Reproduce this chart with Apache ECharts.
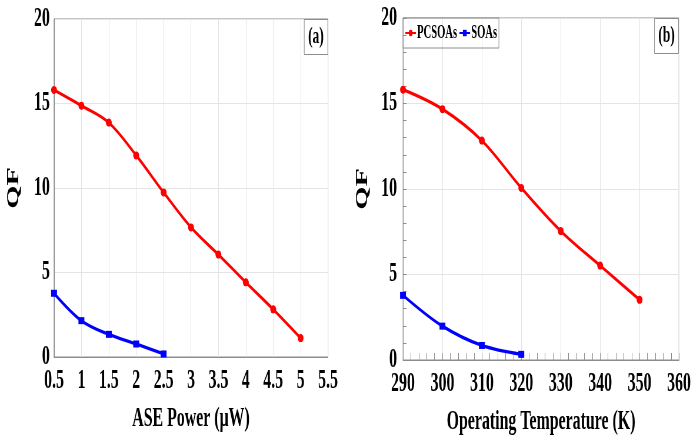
<!DOCTYPE html>
<html>
<head>
<meta charset="utf-8">
<script src="https://cdn.jsdelivr.net/npm/echarts@6/dist/echarts.min.js"></script>
<style>
  html, body { margin: 0; padding: 0; overflow: hidden; background: #fff; width: 693px; height: 441px; }
  /* the figure is laid out on a wider canvas and narrowed horizontally,
     which gives the tall, condensed lettering of the original figure */
  #chart { height: 441px; transform-origin: 0 0; }
</style>
</head>
<body>
<div id="chart"></div>
<script>
// ---- data ----
const asePower      = [0.5, 1, 1.5, 2, 2.5, 3, 3.5, 4, 4.5, 5];          // µW
const qfPcsoaPower  = [15.8, 14.87, 13.87, 11.93, 9.74, 7.67, 6.06, 4.42, 2.82, 1.12];
const qfSoaPower    = [3.77, 2.15, 1.34, 0.77, 0.18];

const temperature   = [290, 300, 310, 320, 330, 340, 350];                 // K
const qfPcsoaTemp   = [15.81, 14.67, 12.83, 10.06, 7.54, 5.52, 3.52];
const qfSoaTemp     = [3.78, 1.98, 0.85, 0.33];

const powerTicks = [0.5, 1, 1.5, 2, 2.5, 3, 3.5, 4, 4.5, 5, 5.5];
const tempTicks  = [290, 300, 310, 320, 330, 340, 350, 360];
const qfTicks    = [0, 5, 10, 15, 20];

const seriesNames = ['PCSOAs', 'SOAs'];

// ---- layout helpers ----
const K = 1.7;                       // horizontal stretch factor of the drawing canvas
const W = 693, H = 441;
const sx = v => v * K;               // screen x -> canvas x

const el = document.getElementById('chart');
el.style.width = Math.round(W * K) + 'px';
el.style.transform = 'scaleX(' + (1 / K) + ')';

const FONT = 'Liberation Serif';
const AXIS_GRAY = '#8c8c8c';
const GRID_GRAY = '#e4e4e4';
const RED = '#ff0000', BLUE = '#0000ff';

const pairs = (xs, ys) => ys.map((y, i) => [xs[i], y]);

function xAxisFor(gridIndex, ticks, name, minor) {
  return {
    type: 'value', gridIndex,
    min: ticks[0], max: ticks[ticks.length - 1], interval: ticks[1] - ticks[0],
    name, nameLocation: 'middle', nameGap: 49,
    nameTextStyle: { fontFamily: FONT, fontWeight: 'bold', fontSize: 27, color: '#000' },
    axisLine: { show: true, onZero: false, lineStyle: { color: AXIS_GRAY, width: 1 } },
    axisTick: { show: minor, inside: true, length: 7, lineStyle: { color: AXIS_GRAY } },
    minorTick: { show: minor, splitNumber: 5, length: 7, lineStyle: { color: AXIS_GRAY } },
    axisLabel: { fontFamily: FONT, fontWeight: 'bold', fontSize: 27, color: '#000', margin: 11,
                 showMinLabel: true, showMaxLabel: true },
    splitLine: { show: true, lineStyle: { color: GRID_GRAY, width: 1 } }
  };
}

function yAxisFor(gridIndex, minor, labelMargin) {
  return {
    type: 'value', gridIndex,
    min: qfTicks[0], max: qfTicks[qfTicks.length - 1], interval: qfTicks[1] - qfTicks[0],
    name: 'QF', nameLocation: 'middle', nameGap: 54, nameRotate: 90,
    nameTextStyle: { fontFamily: FONT, fontWeight: 'bold', fontSize: 30, color: '#000' },
    axisLine: { show: true, lineStyle: { color: AXIS_GRAY, width: 1 } },
    axisTick: { show: minor, inside: true, length: 6, lineStyle: { color: AXIS_GRAY } },
    minorTick: { show: minor, splitNumber: 5, length: 6, lineStyle: { color: AXIS_GRAY } },
    minorSplitLine: { show: false },
    axisLabel: { fontFamily: FONT, fontWeight: 'bold', fontSize: 27, color: '#000', margin: labelMargin },
    splitLine: { show: true, lineStyle: { color: GRID_GRAY, width: 1 } }
  };
}

function lineSeries(name, color, symbol, xIdx, data) {
  return {
    name, type: 'line', xAxisIndex: xIdx, yAxisIndex: xIdx,
    data, smooth: 0.35, symbol, symbolSize: symbol === 'rect' ? [10, 7] : [10, 8],
    showSymbol: true,
    lineStyle: { color, width: 3.3 },
    itemStyle: { color, borderWidth: 0 },
    z: name === 'PCSOAs' ? 3 : 4
  };
}

const labelBox = (text, rightScreen, topScreen) => ({
  text, right: sx(W - rightScreen), top: topScreen,
  padding: [6, 7],
  borderColor: AXIS_GRAY, borderWidth: 1,
  textStyle: { fontFamily: FONT, fontWeight: 'bold', fontSize: 23, lineHeight: 24, color: '#000' }
});

const chart = echarts.init(el, null, { renderer: 'canvas' });
chart.setOption({
  animation: false,
  backgroundColor: '#fff',
  title: [labelBox('(a)', 328, 19), labelBox('(b)', 679, 18)],
  legend: {
    data: seriesNames,
    left: sx(403), top: 18,
    padding: [6, 3],
    itemGap: 3, itemWidth: 18, itemHeight: 8,
    borderColor: AXIS_GRAY, borderWidth: 1,
    textStyle: { fontFamily: FONT, fontWeight: 'bold', fontSize: 18, color: '#000', padding: [0, 0, 0, -3] }
  },
  grid: [
    { left: sx(54),  top: 19, width: sx(328 - 54),  height: 357 - 19,
      show: true, borderColor: AXIS_GRAY, borderWidth: 1, backgroundColor: 'transparent' },
    { left: sx(403), top: 18, width: sx(679 - 403), height: 362 - 18,
      show: true, borderColor: AXIS_GRAY, borderWidth: 1, backgroundColor: 'transparent' }
  ],
  xAxis: [
    xAxisFor(0, powerTicks, 'ASE Power (\u03bcW)', false),
    xAxisFor(1, tempTicks, 'Operating Temperature (K)', true)
  ],
  yAxis: [
    yAxisFor(0, false, 7),
    yAxisFor(1, true, 10)
  ],
  series: [
    lineSeries(seriesNames[0], RED,  'circle', 0, pairs(asePower, qfPcsoaPower)),
    lineSeries(seriesNames[1], BLUE, 'rect',   0, pairs(asePower, qfSoaPower)),
    lineSeries(seriesNames[0], RED,  'circle', 1, pairs(temperature, qfPcsoaTemp)),
    lineSeries(seriesNames[1], BLUE, 'rect',   1, pairs(temperature, qfSoaTemp))
  ]
});
</script>
</body>
</html>
